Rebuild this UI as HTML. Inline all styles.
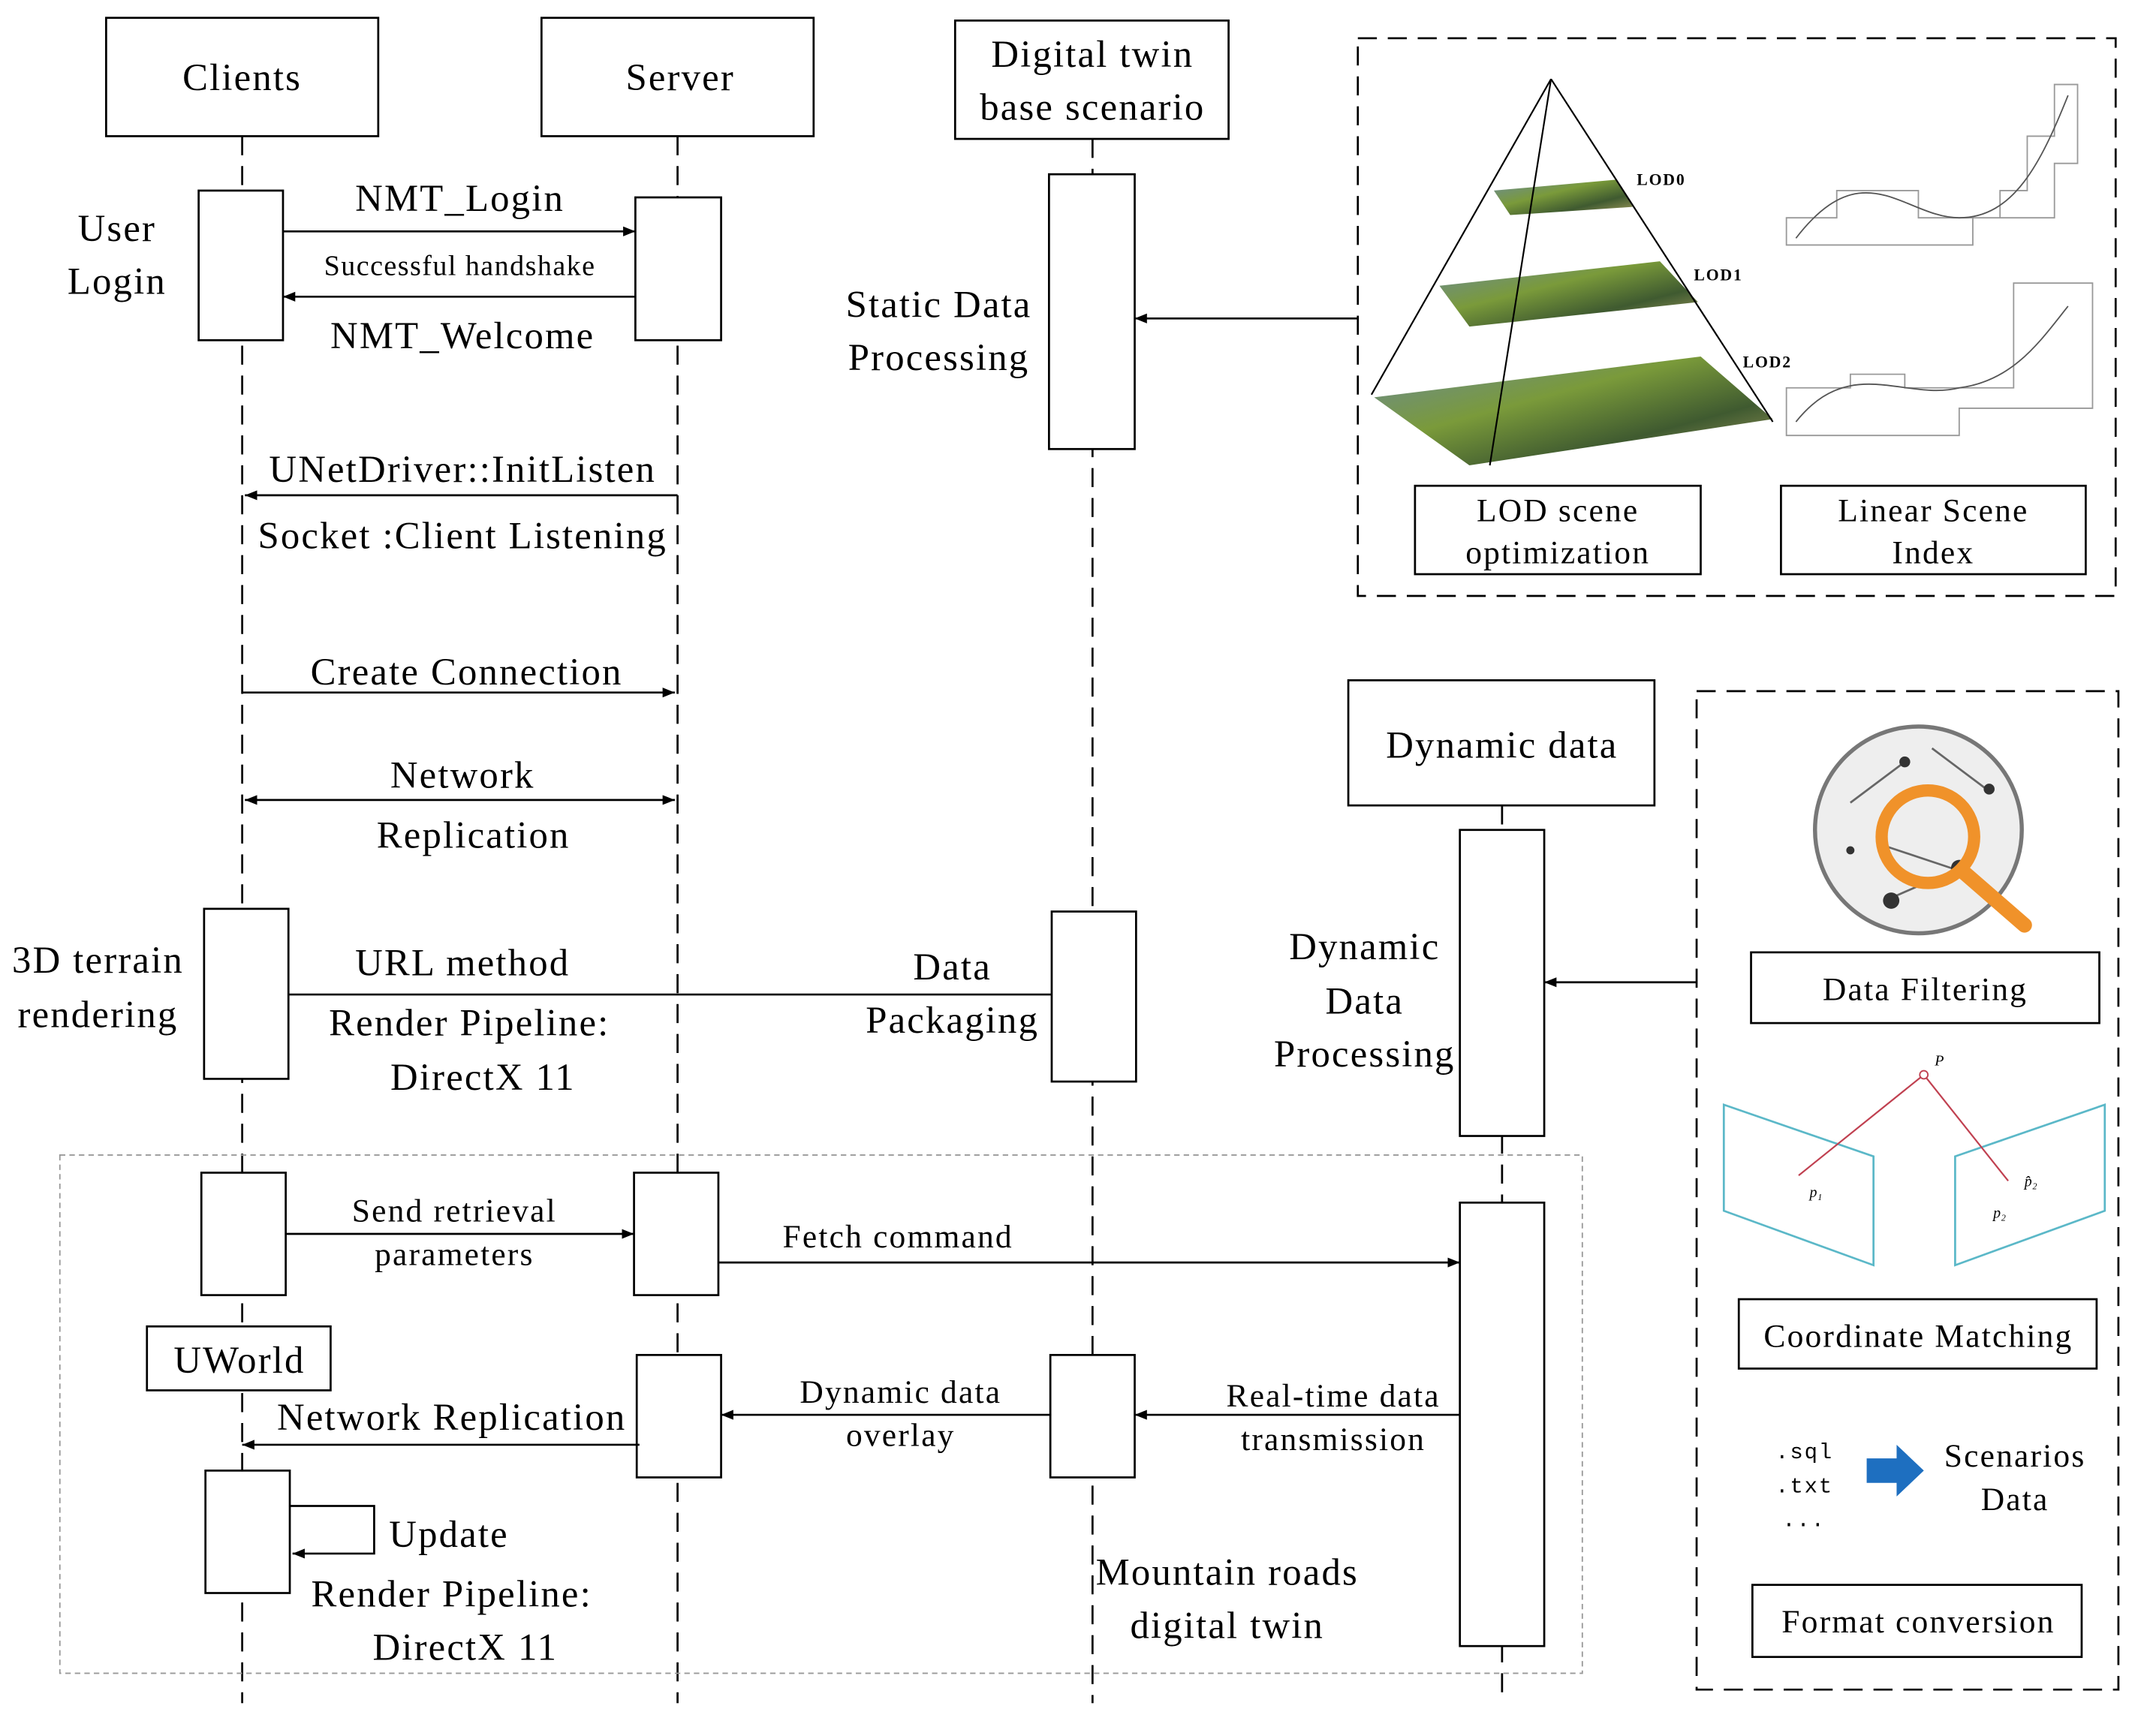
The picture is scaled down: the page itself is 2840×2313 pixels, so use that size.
<!DOCTYPE html>
<html><head><meta charset="utf-8"><style>html,body{margin:0;padding:0;background:#fff}svg{display:block}</style></head>
<body>
<svg width="2840" height="2313" viewBox="0 0 1567 1276" xmlns="http://www.w3.org/2000/svg" font-family="Liberation Serif, serif">
<defs>
<marker id="a" viewBox="0 0 10 10" refX="10" refY="5" markerWidth="9" markerHeight="9" orient="auto-start-reverse" markerUnits="userSpaceOnUse"><path d="M0,1 L10,5 L0,9 z" fill="#000"/></marker>
<linearGradient id="g" x1="0" y1="0" x2="1" y2="1"><stop offset="0" stop-color="#6a8a9a"/><stop offset="0.4" stop-color="#7a9a3a"/><stop offset="0.7" stop-color="#3f5a30"/><stop offset="1" stop-color="#a8a060"/></linearGradient>
</defs>
<g fill="none" stroke="#000" stroke-width="1.5">
<g stroke-dasharray="14,8">
<line x1="178" y1="100" x2="178" y2="1252"/><line x1="498" y1="100" x2="498" y2="1252"/>
<line x1="803" y1="102" x2="803" y2="1252"/><line x1="1104" y1="592" x2="1104" y2="1252"/>
</g>
<g fill="#fff">
<rect x="78" y="13" width="200" height="87"/><rect x="398" y="13" width="200" height="87"/><rect x="702" y="15" width="201" height="87"/>
<rect x="146" y="140" width="62" height="110"/><rect x="467" y="145" width="63" height="105"/><rect x="771" y="128" width="63" height="202"/>
<rect x="150" y="668" width="62" height="125"/><rect x="773" y="670" width="62" height="125"/>
<rect x="991" y="500" width="225" height="92"/><rect x="1073" y="610" width="62" height="225"/>
</g>
<rect x="998" y="28" width="557" height="410" stroke-dasharray="14,8"/>
<rect x="1247" y="508" width="310" height="734" stroke-dasharray="14,8"/>
<rect x="44" y="849" width="1119" height="381" stroke="#999" stroke-width="1" stroke-dasharray="4,3"/>
<g fill="#fff">
<rect x="1040" y="357" width="210" height="65"/><rect x="1309" y="357" width="224" height="65"/>
<rect x="1287" y="700" width="256" height="52"/><rect x="1278" y="955" width="263" height="51"/><rect x="1288" y="1165" width="242" height="53"/>
<rect x="148" y="862" width="62" height="90"/><rect x="466" y="862" width="62" height="90"/><rect x="1073" y="884" width="62" height="326"/>
<rect x="108" y="975" width="135" height="47"/><rect x="468" y="996" width="62" height="90"/><rect x="772" y="996" width="62" height="90"/>
<rect x="151" y="1081" width="62" height="90"/>
</g>
<line x1="208" y1="170" x2="467" y2="170" marker-end="url(#a)"/>
<line x1="467" y1="218" x2="208" y2="218" marker-end="url(#a)"/>
<line x1="498" y1="364" x2="180" y2="364" marker-end="url(#a)"/>
<line x1="178" y1="509" x2="496" y2="509" marker-end="url(#a)"/>
<line x1="180" y1="588" x2="496" y2="588" marker-start="url(#a)" marker-end="url(#a)"/>
<line x1="212" y1="731" x2="773" y2="731"/>
<line x1="998" y1="234" x2="834" y2="234" marker-end="url(#a)"/>
<line x1="1247" y1="722" x2="1135" y2="722" marker-end="url(#a)"/>
<line x1="210" y1="907" x2="466" y2="907" marker-end="url(#a)"/>
<line x1="528" y1="928" x2="1073" y2="928" marker-end="url(#a)"/>
<line x1="1073" y1="1040" x2="834" y2="1040" marker-end="url(#a)"/>
<line x1="772" y1="1040" x2="530" y2="1040" marker-end="url(#a)"/>
<line x1="470" y1="1062" x2="178" y2="1062" marker-end="url(#a)"/>
<polyline points="213,1107 275,1107 275,1142 215,1142" marker-end="url(#a)"/>
</g>
<polygon points="1098,140 1188,132 1200,152 1110,158" fill="url(#g)"/>
<polygon points="1058,210 1220,192 1248,222 1080,240" fill="url(#g)"/>
<polygon points="1010,292 1250,262 1303,308 1080,342" fill="url(#g)"/>
<g stroke="#000" stroke-width="1.2" fill="none">
<line x1="1140" y1="58" x2="1008" y2="290"/><line x1="1140" y1="58" x2="1303" y2="310"/><line x1="1140" y1="58" x2="1095" y2="342"/>
</g>
<g font-size="12" font-weight="bold" letter-spacing="1"><text x="1203" y="136">LOD0</text><text x="1245" y="206">LOD1</text><text x="1281" y="270">LOD2</text></g>
<g stroke="#999" fill="none" stroke-width="1">
<path d="M1313,180 L1313,160 L1350,160 L1350,140 L1410,140 L1410,160 L1470,160 L1470,140 L1490,140 L1490,100 L1510,100 L1510,62 L1527,62 L1527,120 L1510,120 L1510,160 L1450,160 L1450,180 Z"/>
<path d="M1320,175 C1370,110 1400,160 1440,160 C1480,160 1500,120 1520,70" stroke="#555"/>
<path d="M1313,320 L1313,285 L1360,285 L1360,275 L1400,275 L1400,285 L1480,285 L1480,208 L1538,208 L1538,300 L1440,300 L1440,320 Z"/>
<path d="M1320,310 C1360,260 1400,295 1440,285 C1480,280 1500,250 1520,225" stroke="#555"/>
</g>
<circle cx="1410" cy="610" r="76" fill="#eee" stroke="#777" stroke-width="3"/>
<g stroke="#666" stroke-width="1.5"><line x1="1360" y1="590" x2="1400" y2="560"/><line x1="1380" y1="620" x2="1440" y2="640"/><line x1="1390" y1="660" x2="1440" y2="638"/><line x1="1420" y1="550" x2="1460" y2="580"/></g>
<g fill="#333"><circle cx="1400" cy="560" r="4"/><circle cx="1440" cy="638" r="6"/><circle cx="1390" cy="662" r="6"/><circle cx="1360" cy="625" r="3"/><circle cx="1462" cy="580" r="4"/></g>
<circle cx="1417" cy="615" r="34" fill="none" stroke="#f0922a" stroke-width="9"/>
<line x1="1442" y1="640" x2="1488" y2="680" stroke="#f0922a" stroke-width="11" stroke-linecap="round"/>
<polygon points="1267,812 1377,850 1377,930 1267,890" fill="none" stroke="#5bb8c8" stroke-width="1.5"/>
<polygon points="1437,850 1547,812 1547,890 1437,930" fill="none" stroke="#5bb8c8" stroke-width="1.5"/>
<g stroke="#c04050" stroke-width="1.2"><line x1="1414" y1="790" x2="1322" y2="864"/><line x1="1414" y1="790" x2="1476" y2="868"/></g>
<circle cx="1414" cy="790" r="3" fill="#fff" stroke="#c04050"/>
<g font-size="11" font-style="italic"><text x="1422" y="783">P</text><text x="1330" y="880">p₁</text><text x="1488" y="872">p̂₂</text><text x="1465" y="895">p₂</text></g>
<g font-family="Liberation Mono, monospace" font-size="16" letter-spacing="1"><text x="1305" y="1072">.sql</text><text x="1305" y="1097">.txt</text><text x="1310" y="1122">...</text></g>
<polygon points="1372,1072 1394,1072 1394,1062 1414,1081 1394,1100 1394,1090 1372,1090" fill="#1e6fc0"/>
<g font-size="28" text-anchor="middle" letter-spacing="1.2">
<text x="178" y="66">Clients</text><text x="500" y="66">Server</text>
<text x="803" y="49">Digital twin</text><text x="803" y="88">base scenario</text>
<text x="86" y="177">User</text><text x="86" y="216">Login</text>
<text x="338" y="155">NMT_Login</text><text x="340" y="256">NMT_Welcome</text>
<text x="690" y="233">Static Data</text><text x="690" y="272">Processing</text>
<text x="340" y="354">UNetDriver::InitListen</text><text x="340" y="403">Socket :Client Listening</text>
<text x="343" y="503">Create Connection</text>
<text x="340" y="579">Network</text><text x="348" y="623">Replication</text>
<text x="72" y="715">3D terrain</text><text x="72" y="755">rendering</text>
<text x="340" y="717">URL method</text><text x="345" y="761">Render Pipeline:</text><text x="355" y="801">DirectX 11</text>
<text x="700" y="720">Data</text><text x="700" y="759">Packaging</text>
<text x="1104" y="557">Dynamic data</text>
<text x="1003" y="705">Dynamic</text><text x="1003" y="745">Data</text><text x="1003" y="784">Processing</text>
<text x="176" y="1009">UWorld</text>
<text x="332" y="1051">Network Replication</text>
<text x="330" y="1137">Update</text>
<text x="332" y="1181">Render Pipeline:</text><text x="342" y="1220">DirectX 11</text>
<text x="902" y="1165">Mountain roads</text><text x="902" y="1204">digital twin</text>
</g>
<g font-size="24" text-anchor="middle" letter-spacing="1.2">
<text x="1145" y="383">LOD scene</text><text x="1145" y="414">optimization</text>
<text x="1421" y="383">Linear Scene</text><text x="1421" y="414">Index</text>
<text x="1415" y="735">Data Filtering</text><text x="1410" y="990">Coordinate Matching</text>
<text x="1410" y="1200">Format conversion</text>
<text x="1481" y="1078">Scenarios</text><text x="1481" y="1110">Data</text>
<text x="334" y="898">Send retrieval</text><text x="334" y="930">parameters</text>
<text x="660" y="917">Fetch command</text>
<text x="662" y="1031">Dynamic data</text><text x="662" y="1063">overlay</text>
<text x="980" y="1034">Real-time data</text><text x="980" y="1066">transmission</text>
</g>
<text x="338" y="202" font-size="21" text-anchor="middle" letter-spacing="0.8">Successful handshake</text>
</svg>
</body></html>
